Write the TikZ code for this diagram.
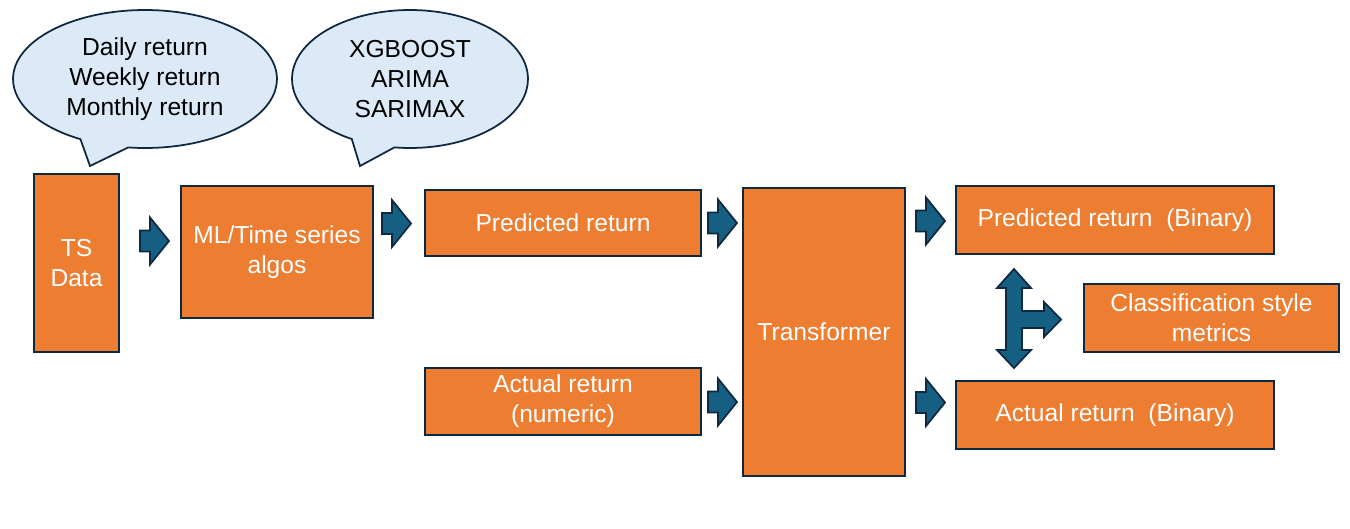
\documentclass[tikz,border=0pt]{standalone}
\usepackage{fontspec}
\setmainfont{Liberation Sans}
\usetikzlibrary{shapes.callouts}
\definecolor{O}{RGB}{237,125,49}
\definecolor{N}{RGB}{14,40,65}
\definecolor{B}{RGB}{21,96,130}
\definecolor{S}{RGB}{220,234,247}
\newcommand{\blockarrow}[2]{\draw[line width=1pt, draw=N, fill=B] (#1,#2-10.5)--(#1+10,#2-10.5)--(#1+10,#2-23.5)--(#1+29,#2)--(#1+10,#2+23.5)--(#1+10,#2+10.5)--(#1,#2+10.5)--cycle;}

\begin{document}
\begin{tikzpicture}[x=0.02cm, y=-0.02cm,
  box/.style={draw=N, fill=O, line width=1.1pt, text=white, align=center, inner sep=0pt, font=\fontsize{14pt}{17pt}\selectfont},
  bubble/.style={ellipse callout, draw=N, fill=S, line width=1pt, align=center, inner sep=0pt, callout pointer arc=22, font=\fontsize{14pt}{17pt}\selectfont}]
\useasboundingbox (0,0) rectangle (1350,528);
% thought bubbles
\node[bubble, minimum width=5.28cm, minimum height=2.76cm, callout absolute pointer={(90,166)}] (days) at (145,79) {Daily return\\Weekly return\\Monthly return};
\node[bubble, minimum width=4.72cm, minimum height=2.76cm, callout absolute pointer={(360,166)}] (algs) at (410,79) {XGBOOST\\ARIMA\\SARIMAX};
% boxes
\node[box, minimum width=1.7cm, minimum height=3.56cm] (ts) at (76.5,263) {TS\\Data};
\node[box, minimum width=3.84cm, minimum height=2.64cm] (ml) at (277,252) {ML/Time series\\algos};
\node[box, minimum width=5.52cm, minimum height=1.32cm] (pred) at (563,223) {Predicted return};
\node[box, minimum width=5.52cm, minimum height=1.34cm] (act) at (563,401.5) {Actual return\\(numeric)};
\node[box, minimum width=3.24cm, minimum height=5.76cm] (trans) at (824,332) {Transformer};
\node[box, minimum width=6.36cm, minimum height=1.36cm] (predb) at (1115,220) {Predicted return\ \ (Binary)};
\node[box, minimum width=6.36cm, minimum height=1.36cm] (actb) at (1115,415) {Actual return\ \ (Binary)};
\node[box, minimum width=5.1cm, minimum height=1.36cm] (metr) at (1211.5,318) {Classification style\\metrics};
% arrows
\blockarrow{140}{241}\blockarrow{382}{223.5}\blockarrow{708}{223}\blockarrow{708}{402}\blockarrow{916}{221}\blockarrow{916}{402.5}
\draw[line width=1pt, draw=N, fill=B] (1014,269)--(1031,288)--(1022,288)--(1022,311)--(1044,311)--(1044,302)--(1061,319.5)--(1044,337)--(1044,328)--(1022,328)--(1022,350)--(1031,350)--(1014,368)--(997,350)--(1006,350)--(1006,288)--(997,288)--cycle;
\end{tikzpicture}
\end{document}
